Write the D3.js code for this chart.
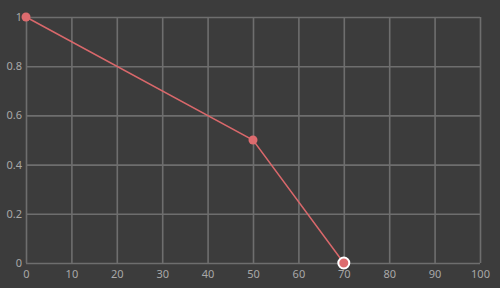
<!DOCTYPE html>
<html>
<head>
<meta charset="utf-8">
<script src="https://cdn.jsdelivr.net/npm/d3@7"></script>
<style>
  body { margin: 0; background: #3c3c3c; }
  .chart { width: 500px; height: 288px; }
  text { font-family: "Noto Sans", "DejaVu Sans", sans-serif; }
</style>
</head>
<body>
<div class="chart"></div>
<script>
// data
const xValues = [0, 50, 70];
const yValues = [1, 0.5, 0];
const xTicks = [0, 10, 20, 30, 40, 50, 60, 70, 80, 90, 100];
const yTicks = [0, 0.2, 0.4, 0.6, 0.8, 1];

const width = 500;
const height = 288;
const margin = {top: 17, right: 20, bottom: 25, left: 26};

const svg = d3.select('.chart').append('svg')
  .attr('width', width)
  .attr('height', height);

svg.append('rect')
  .attr('width', width)
  .attr('height', height)
  .style('fill', '#3c3c3c');

const x = d3.scaleLinear().domain([0, 100]).range([margin.left, width - margin.right]);
const y = d3.scaleLinear().domain([0, 1]).range([height - margin.bottom, margin.top]);

// grid
const xAxis = svg.append('g')
  .attr('transform', `translate(0,${height - margin.bottom})`)
  .call(d3.axisBottom(x).tickValues(xTicks).tickSize(-(height - margin.top - margin.bottom)).tickPadding(7).tickFormat(d3.format('')));

const yAxis = svg.append('g')
  .attr('transform', `translate(${margin.left},0)`)
  .call(d3.axisLeft(y).tickValues(yTicks).tickSize(-(width - margin.left - margin.right)).tickPadding(4).tickFormat(d => d));

[xAxis, yAxis].forEach(a => {
  a.select('.domain').remove();
  a.selectAll('line').style('stroke', '#6e6e6e').style('stroke-width', '1.6px');
  a.selectAll('text').style('fill', '#a8a8a8').style('font-size', '11px');
});

// line
const pts = xValues.map((v, i) => [v, yValues[i]]);
svg.append('path')
  .datum(pts)
  .attr('d', d3.line().x(d => x(d[0])).y(d => y(d[1])))
  .style('fill', 'none')
  .style('stroke', '#d9686b')
  .style('stroke-width', '1.5px');

svg.selectAll('circle.pt')
  .data(pts)
  .enter().append('circle')
  .attr('class', 'pt')
  .attr('cx', d => x(d[0]))
  .attr('cy', d => y(d[1]))
  .attr('r', (d, i) => i === pts.length - 1 ? 5.5 : 4.5)
  .style('fill', '#dd6b6e')
  .style('stroke', (d, i) => i === pts.length - 1 ? '#ffffff' : 'none')
  .style('stroke-width', '2px');
</script>
</body>
</html>
